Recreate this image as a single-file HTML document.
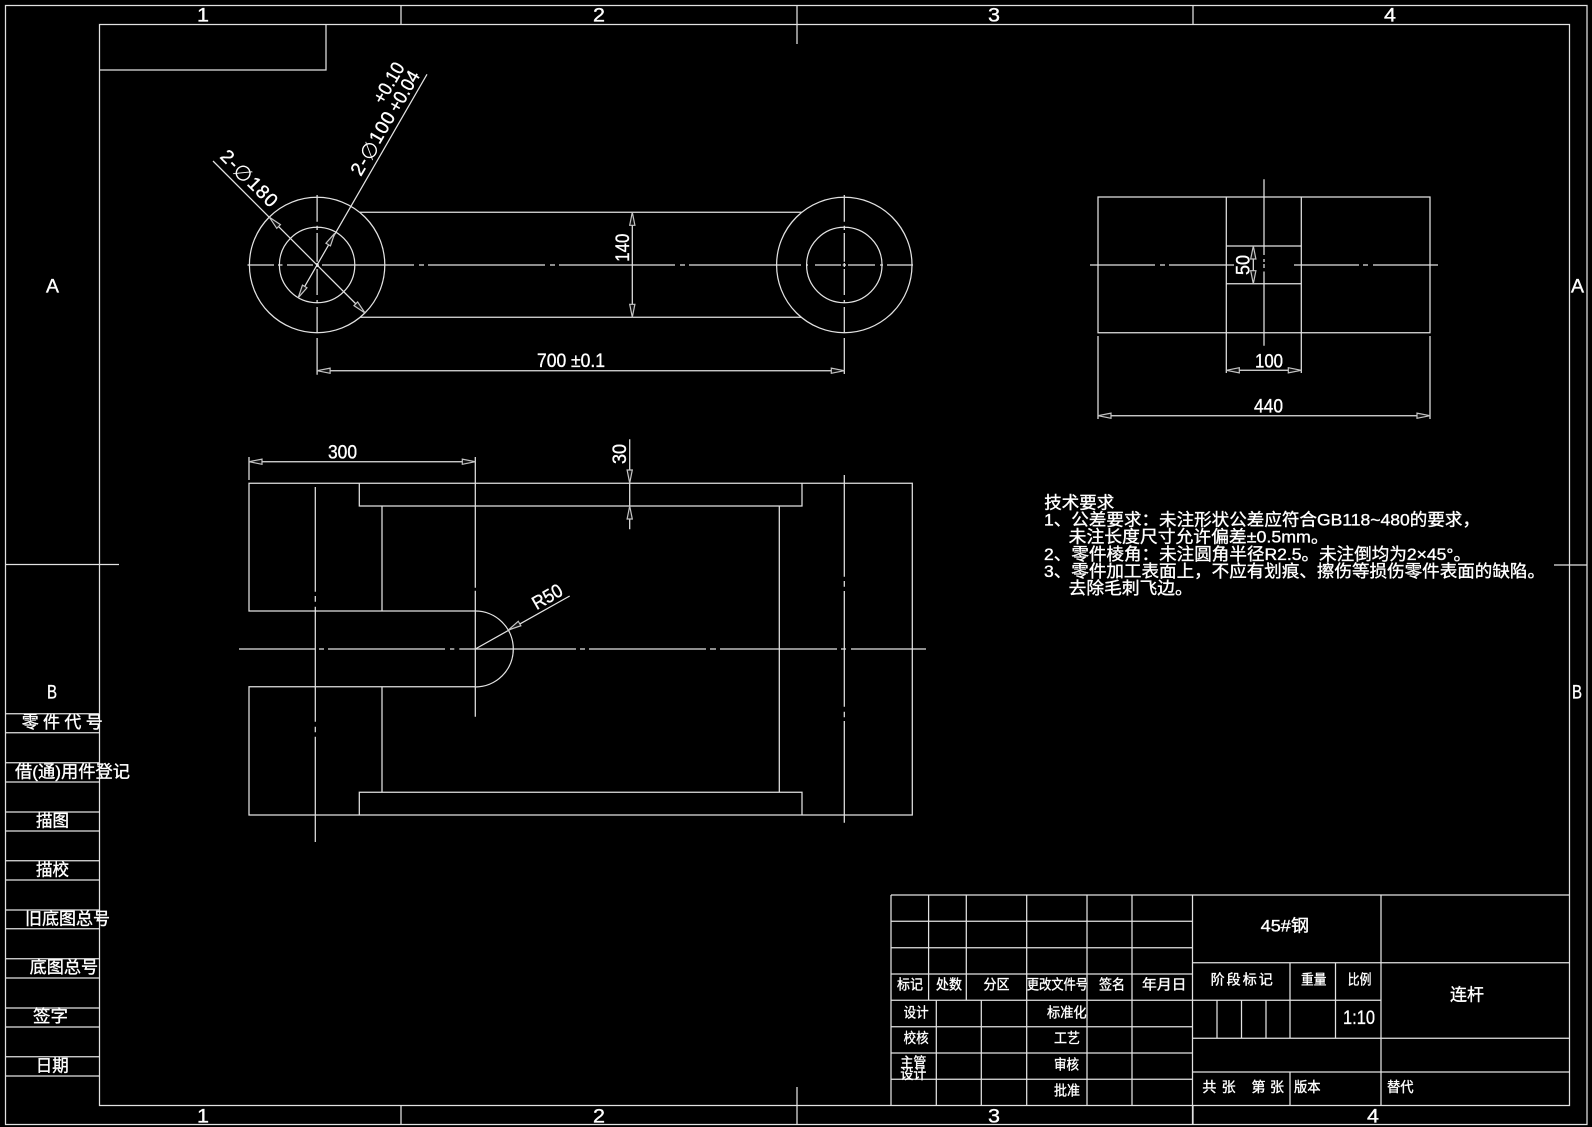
<!DOCTYPE html>
<html lang="zh"><head><meta charset="utf-8"><title>连杆</title>
<style>html,body{margin:0;padding:0;background:#000}svg{display:block}
text{font-family:"Liberation Sans","Noto Sans CJK SC",sans-serif;fill:#fff;stroke:#fff;stroke-width:.35;dominant-baseline:central}
.s{font-size:16px}.d{font-size:19px}</style></head><body>
<svg xmlns="http://www.w3.org/2000/svg" width="1592" height="1127" viewBox="0 0 1592 1127">
<rect width="1592" height="1127" fill="#000"/>
<defs><path id="a" d="M0 0L13 -2.6V2.6Z" fill="#111" stroke="#c4c4c4" stroke-width="1.2"/></defs>
<g fill="none" stroke="#e2e2e2" stroke-width="1.25">
<!-- frame -->
<path d="M5.5 5.5H1587V1124.5H5.5ZM99.5 24.5H1569.5V1105.5H99.5ZM99.5 70H326V24.5M401 5.5V24.5M797 5.5V44M1193 5.5V24.5M401 1105.5V1124.5M797 1087V1124.5M1193 1105.5V1124.5M5.5 564.5H119M1554 565H1587"/>
<!-- left strip -->
<path d="M5.5 713.7H99.5M5.5 732.7H99.5M5.5 762.7H99.5M5.5 782H99.5M5.5 812H99.5M5.5 831H99.5M5.5 860.7H99.5M5.5 880H99.5M5.5 910H99.5M5.5 928.7H99.5M5.5 958.7H99.5M5.5 978H99.5M5.5 1008H99.5M5.5 1027H99.5M5.5 1056.7H99.5M5.5 1076H99.5"/>
<!-- title block -->
<path d="M891 895H1569.5M891 921.3H1192.5M891 947.7H1192.5M891 974H1192.5M891 1000.3H1381M891 1026.7H1192.5M891 1053H1192.5M891 1079.3H1192.5M1192.5 962.7H1569.5M1192.5 1038.3H1569.5M1192.5 1072H1569.5"/>
<path d="M891 895V1105.5M928.6 895V1000.3M966.3 895V1000.3M1026.7 895V1105.5M1087 895V1105.5M1132 895V1105.5M1192.5 895V1124.5M936.3 1000.3V1105.5M981.3 1000.3V1105.5M1381 895V1105.5M1290 962.7V1038.3M1290 1072V1105.5M1335.5 962.7V1038.3M1217 1000.3V1038.3M1241.5 1000.3V1038.3M1266 1000.3V1038.3"/>
<!-- top view -->
<circle cx="317.1" cy="265" r="67.7"/><circle cx="317.1" cy="265" r="37.7"/>
<circle cx="844.3" cy="265" r="67.7"/><circle cx="844.3" cy="265" r="37.7"/>
<path d="M360 212.3H801.7M360 317.3H801.7"/>
<path d="M247.5 265H274M278 265H282.5M287 265H313M316 265H319M322 265H414M419 265H424M428 265H545M550 265H555M559 265H675M680 265H685M689 265H801M806 265H808M815 265H841M842.7 265H846M848 265H875M880 265H883M887 265H913"/>
<path d="M844.3 195V221.7M844.3 225.7V230M844.3 233V261.7M844.3 263V267M844.3 269V295M844.3 300V303M844.3 307V332.7M844.3 338V374"/>
<path d="M317.1 195V221.7M317.1 225.7V230M317.1 233V261.7M317.1 263V267M317.1 269V295M317.1 300V303M317.1 307V332.7M317.1 338V374.7"/>
<path d="M317.1 370.7H844.3M632.3 212.3V317.3"/>
<path d="M213 161L365 313M427 74.3L298.2 297.7"/>
<!-- right view -->
<path d="M1098 197H1430V332.7H1098ZM1226.3 197V332.7M1301.3 197V332.7M1226.3 246H1301.3M1226.3 283.7H1301.3"/>
<path d="M1264 179.3V255M1264 259V262M1264 264V268M1264 271.5V345.7"/>
<path d="M1090 265H1155M1160 265H1165M1169 265H1234M1294 265H1359M1363 265H1368M1373 265H1438"/>
<path d="M1098 336V419M1430 336V419M1098 415.7H1430M1226.3 332.7V373M1301.3 332.7V373M1226.3 370.3H1301.3M1253.3 246V283.7"/>
<!-- bottom view -->
<path d="M475.3 611H249V483.3H912.3V815H249V686.7H475.3M359.3 483.3V506H802V483.3M382 506V611M382 686.7V792.3M359.3 815V792.3H802V815M779.3 506V792.3"/>
<path d="M475.3 611A38 38 0 0 1 475.3 687"/>
<path d="M239 649H315M319 649H324M328 649H445M450 649H454.3M459.3 649H576M580 649H585M589 649H706M710 649H716M720 649H837M841 649H846M851 649H926"/>
<path d="M844.3 475V576.7M844.3 581V586.7M844.3 591V706.7M844.3 711.7V717.3M844.3 721V822.7"/>
<path d="M315.3 487V591.7M315.3 596V601.7M315.3 606.7V721.7M315.3 726.7V732.3M315.3 736.7V842"/>
<path d="M475.3 457V587.7M475.3 590.7V716.7"/>
<path d="M249 457V480M249 461.7H475.3M629.7 439.3V529.3M475.3 649L569.7 596"/>
</g>
<use href="#a" transform="translate(317.1 370.7)"/><use href="#a" transform="translate(844.3 370.7) rotate(180)"/>
<use href="#a" transform="translate(632.3 212.3) rotate(90)"/><use href="#a" transform="translate(632.3 317.3) rotate(-90)"/>
<use href="#a" transform="translate(1098 415.7)"/><use href="#a" transform="translate(1430 415.7) rotate(180)"/>
<use href="#a" transform="translate(1226.3 370.3)"/><use href="#a" transform="translate(1301.3 370.3) rotate(180)"/>
<use href="#a" transform="translate(1253.3 246) rotate(90)"/><use href="#a" transform="translate(1253.3 283.7) rotate(-90)"/>
<use href="#a" transform="translate(249 461.7)"/><use href="#a" transform="translate(475.3 461.7) rotate(180)"/>
<use href="#a" transform="translate(629.7 483) rotate(-90)"/><use href="#a" transform="translate(629.7 506) rotate(90)"/>
<use href="#a" transform="translate(508.3 630) rotate(-30)"/>
<use href="#a" transform="translate(269.4 217.3) rotate(45)"/><use href="#a" transform="translate(365 313) rotate(225)"/>
<use href="#a" transform="translate(334.7 233.3) rotate(120)"/><use href="#a" transform="translate(298.2 297.7) rotate(-60)"/>
<!-- zone labels -->
<g class="d">
<text x="197" y="16" textLength="12" lengthAdjust="spacingAndGlyphs">1</text>
<text x="593" y="16" textLength="12" lengthAdjust="spacingAndGlyphs">2</text>
<text x="988" y="16" textLength="12" lengthAdjust="spacingAndGlyphs">3</text>
<text x="1384" y="16" textLength="12" lengthAdjust="spacingAndGlyphs">4</text>
<text x="197" y="1117" textLength="12" lengthAdjust="spacingAndGlyphs">1</text>
<text x="593" y="1117" textLength="12" lengthAdjust="spacingAndGlyphs">2</text>
<text x="988" y="1117" textLength="12" lengthAdjust="spacingAndGlyphs">3</text>
<text x="1367" y="1117" textLength="12" lengthAdjust="spacingAndGlyphs">4</text>
<text x="46" y="287" textLength="13" lengthAdjust="spacingAndGlyphs">A</text>
<text x="1571" y="287" textLength="13" lengthAdjust="spacingAndGlyphs">A</text>
<text x="47" y="693" textLength="10" lengthAdjust="spacingAndGlyphs">B</text>
<text x="1572" y="693" textLength="10" lengthAdjust="spacingAndGlyphs">B</text>
<!-- dimensions -->
<text x="537" y="361.5" textLength="68" lengthAdjust="spacingAndGlyphs">700 ±0.1</text>
<text x="1255" y="362" textLength="28" lengthAdjust="spacingAndGlyphs">100</text>
<text x="1254" y="407" textLength="29" lengthAdjust="spacingAndGlyphs">440</text>
<text x="328" y="453" textLength="29" lengthAdjust="spacingAndGlyphs">300</text>
<text transform="translate(623.3 247.7) rotate(-90)" x="-14" textLength="28" lengthAdjust="spacingAndGlyphs">140</text>
<text transform="translate(1244 265) rotate(-90)" x="-10" textLength="20" lengthAdjust="spacingAndGlyphs">50</text>
<text transform="translate(620.5 454) rotate(-90)" x="-10" textLength="20" lengthAdjust="spacingAndGlyphs">30</text>
<text transform="translate(547.7 597.5) rotate(-30)" x="-16" textLength="32" lengthAdjust="spacingAndGlyphs">R50</text>
<text transform="translate(248.5 179) rotate(45)" x="-36" textLength="72" lengthAdjust="spacing">2-<tspan font-size="21" style='font-family:"DejaVu Sans",sans-serif;stroke-width:0'>∅</tspan>180</text>
<text transform="translate(373.6 144) rotate(-60)" x="-35" textLength="70" lengthAdjust="spacing">2-<tspan font-size="21" style='font-family:"DejaVu Sans",sans-serif;stroke-width:0'>∅</tspan>100</text>
<text transform="translate(404.7 91.7) rotate(-60)" x="-22" font-size="19" textLength="44" lengthAdjust="spacingAndGlyphs">+0.04</text>
<text transform="translate(389.5 83.3) rotate(-60)" x="-22" font-size="19" textLength="44" lengthAdjust="spacingAndGlyphs">+0.10</text>
</g>
<!-- left strip text -->
<g style="font-size:17px">
<text x="21.7" y="722.4" textLength="81" lengthAdjust="spacing">零件代号</text>
<text x="15" y="771.8" textLength="115" lengthAdjust="spacingAndGlyphs">借(通)用件登记</text>
<text x="36" y="820.8" textLength="33" lengthAdjust="spacingAndGlyphs">描图</text>
<text x="36" y="869.8" textLength="33" lengthAdjust="spacingAndGlyphs">描校</text>
<text x="25" y="918.8" textLength="85" lengthAdjust="spacingAndGlyphs">旧底图总号</text>
<text x="29.7" y="967.5" textLength="68.5" lengthAdjust="spacingAndGlyphs">底图总号</text>
<text x="33" y="1016.7" textLength="35" lengthAdjust="spacingAndGlyphs">签字</text>
<text x="35.7" y="1065.8" textLength="33" lengthAdjust="spacingAndGlyphs">日期</text>
</g>
<!-- tech -->
<g style="font-size:17px">
<text x="1044.3" y="503" textLength="70" lengthAdjust="spacingAndGlyphs">技术要求</text>
<text x="1044" y="520" textLength="436" lengthAdjust="spacingAndGlyphs">1、公差要求：未注形状公差应符合GB118~480的要求，</text>
<text x="1068.7" y="537.2" textLength="260" lengthAdjust="spacingAndGlyphs">未注长度尺寸允许偏差±0.5mm。</text>
<text x="1044" y="554.3" textLength="427" lengthAdjust="spacingAndGlyphs">2、零件棱角：未注圆角半径R2.5。未注倒均为2×45°。</text>
<text x="1044" y="571.5" textLength="501" lengthAdjust="spacingAndGlyphs">3、零件加工表面上，不应有划痕、擦伤等损伤零件表面的缺陷。</text>
<text x="1068.7" y="588.6" textLength="124" lengthAdjust="spacingAndGlyphs">去除毛刺飞边。</text>
</g>
<!-- title text -->
<g class="s" style="font-size:14px;stroke-width:.55">
<text x="1260.6" y="926" style="font-size:17px" textLength="48.5" lengthAdjust="spacingAndGlyphs">45#钢</text>
<text x="897" y="984.3" textLength="26" lengthAdjust="spacingAndGlyphs">标记</text>
<text x="936" y="984.3" textLength="26" lengthAdjust="spacingAndGlyphs">处数</text>
<text x="983.5" y="984.3" textLength="26" lengthAdjust="spacingAndGlyphs">分区</text>
<text x="1026.7" y="984.3" textLength="61.3" lengthAdjust="spacingAndGlyphs">更改文件号</text>
<text x="1099" y="984.3" textLength="26" lengthAdjust="spacingAndGlyphs">签名</text>
<text x="1142" y="984.3" textLength="44.5" lengthAdjust="spacingAndGlyphs">年月日</text>
<text x="903.6" y="1012.4" textLength="25" lengthAdjust="spacingAndGlyphs">设计</text>
<text x="903.6" y="1038" textLength="25" lengthAdjust="spacingAndGlyphs">校核</text>
<text x="900.4" y="1062.4" textLength="26" lengthAdjust="spacingAndGlyphs">主管</text>
<text x="900.4" y="1074" textLength="26" lengthAdjust="spacingAndGlyphs">设计</text>
<text x="1047" y="1012.4" textLength="39.6" lengthAdjust="spacingAndGlyphs">标准化</text>
<text x="1054" y="1037.8" textLength="26" lengthAdjust="spacingAndGlyphs">工艺</text>
<text x="1054" y="1064.7" textLength="25" lengthAdjust="spacingAndGlyphs">审核</text>
<text x="1054" y="1090.7" textLength="26" lengthAdjust="spacingAndGlyphs">批准</text>
<text x="1210.6" y="979.3" textLength="62.2" lengthAdjust="spacing">阶段标记</text>
<text x="1301" y="979.3" textLength="25.4" lengthAdjust="spacingAndGlyphs">重量</text>
<text x="1347.8" y="979.3" textLength="23.6" lengthAdjust="spacingAndGlyphs">比例</text>
<text x="1343" y="1018.7" style="font-size:19px;stroke-width:.3" textLength="32" lengthAdjust="spacingAndGlyphs">1:10</text>
<text x="1450" y="995" style="font-size:17px" textLength="34" lengthAdjust="spacingAndGlyphs">连杆</text>
<text x="1202.4" y="1087" textLength="33.2" lengthAdjust="spacing">共 张</text>
<text x="1251.5" y="1087" textLength="32.5" lengthAdjust="spacing">第 张</text>
<text x="1294" y="1087" textLength="26.5" lengthAdjust="spacingAndGlyphs">版本</text>
<text x="1387" y="1087" textLength="26.6" lengthAdjust="spacingAndGlyphs">替代</text>
</g>
</svg>
</body></html>
